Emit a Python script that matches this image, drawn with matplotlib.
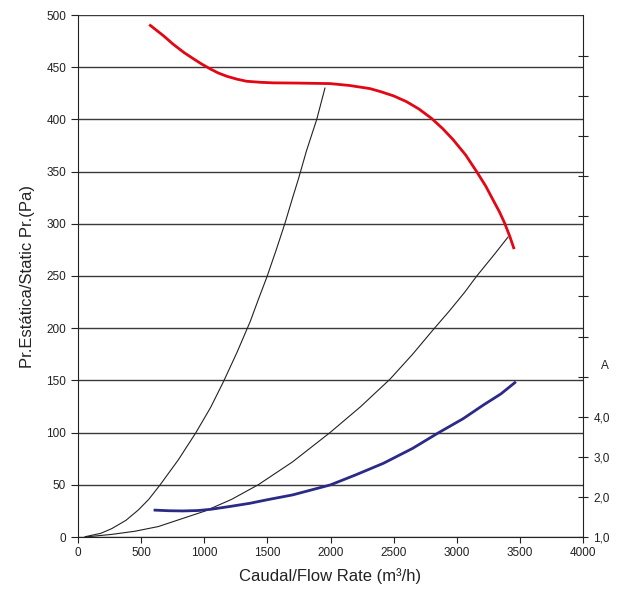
import matplotlib
matplotlib.use("Agg")
import matplotlib.pyplot as plt
import matplotlib.transforms as mtransforms

plt.rcParams['font.family'] = ['Liberation Sans', 'DejaVu Sans']

# fan curve, static pressure (Pa) vs flow (m3/h)
fan_flow = [573, 678, 757, 840, 915, 980, 1047, 1110, 1179, 1260, 1337, 1450, 1548, 1733, 1996,
            2150, 2312, 2400, 2500, 2602, 2700, 2800, 2890, 2971, 3070, 3156, 3230, 3287, 3340, 3379, 3420, 3451]
fan_pres = [490, 480, 471.7, 464, 458, 453, 448.4, 444.5, 441.3, 438.5, 436.5, 435.5, 435, 434.8, 434.3,
            432.5, 429.5, 426.5, 422.5, 417, 410, 401, 391, 380.6, 366, 350.3, 336, 323, 311, 300.7, 288, 277]

# system curves
sys1_flow = [57, 180, 267, 380, 478, 560, 650, 794, 931, 1050, 1153, 1260, 1364, 1430, 1496, 1570, 1640, 1700, 1746, 1810, 1891, 1956]
sys1_pres = [0.3, 3.5, 8, 16, 25.9, 36, 49.9, 73.8, 99.4, 124, 149, 177, 206.4, 228, 249, 275, 300.8, 325, 343, 370, 400, 430]

sys2_flow = [57, 267, 450, 636, 810, 1005, 1216, 1427, 1700, 1996, 2240, 2470, 2650, 2813, 2945, 3060, 3156, 3300, 3406]
sys2_pres = [0, 2.5, 5.5, 10, 17, 24.8, 36, 50, 72, 100, 125, 151, 175, 198.5, 217, 234, 249.6, 271, 287.3]

# current (A) on right axis
amp_flow = [610, 720, 830, 950, 1050, 1200, 1360, 1500, 1700, 2000, 2200, 2420, 2650, 2850, 3050, 3210, 3350, 3460]
amp_vals = [1.67, 1.655, 1.65, 1.66, 1.69, 1.76, 1.84, 1.93, 2.05, 2.30, 2.55, 2.84, 3.21, 3.59, 3.95, 4.29, 4.57, 4.85]

x_ticks = list(range(0, 4001, 500))
y_ticks = list(range(0, 501, 50))
a_ticks = list(range(1, 14))
a_labels = ['1,0', '2,0', '3,0', '4,0'] + [''] * 9

fig = plt.figure(figsize=(6.3, 5.92), dpi=100)
ax = fig.add_axes([78 / 630, 1 - 537 / 592, 505 / 630, 522 / 592])

ax.set_xlim(0, 4000)
ax.set_ylim(0, 500)
ax.set_xticks(x_ticks)
ax.set_yticks(y_ticks)
ax.grid(axis='y', color='#3a3a3a', lw=1)
ax.set_axisbelow(True)
ax.spines['top'].set_visible(False)
ax.spines['right'].set_visible(False)
ax.spines['left'].set_color('#222222')
ax.spines['bottom'].set_color('#222222')
ax.tick_params(axis='x', direction='out', length=4, labelsize=8.5, colors='#222222')
ax.tick_params(axis='y', direction='out', length=5, labelsize=8.5, colors='#222222', right=True)

ax.plot(sys1_flow, sys1_pres, color='#222222', lw=0.8)
ax.plot(sys2_flow, sys2_pres, color='#222222', lw=0.8)
ax.plot(fan_flow, fan_pres, color='#e30613', lw=2)

ax.set_xlabel('Caudal/Flow Rate (m³/h)', fontsize=12, labelpad=6, color='#222222')
ax.set_ylabel('Pr.Estática/Static Pr.(Pa)', fontsize=12, labelpad=8, color='#222222')

twin = ax.twinx()
twin.set_ylim(1, 14.02)
twin.set_yticks(a_ticks)
twin.set_yticklabels(a_labels)
for s in ['top', 'left', 'bottom']:
    twin.spines[s].set_visible(False)
twin.spines['right'].set_color('#222222')
twin.tick_params(axis='y', direction='inout', length=7, labelsize=8.5, colors='#222222', pad=4)
twin.plot(amp_flow, amp_vals, color='#2b2a86', lw=2)

trans = mtransforms.blended_transform_factory(twin.transAxes, twin.transData)
twin.text(1.043, 5.27, 'A', transform=trans, fontsize=8.5, color='#222222', ha='center', va='center')

fig.savefig('out.png', dpi=100)
